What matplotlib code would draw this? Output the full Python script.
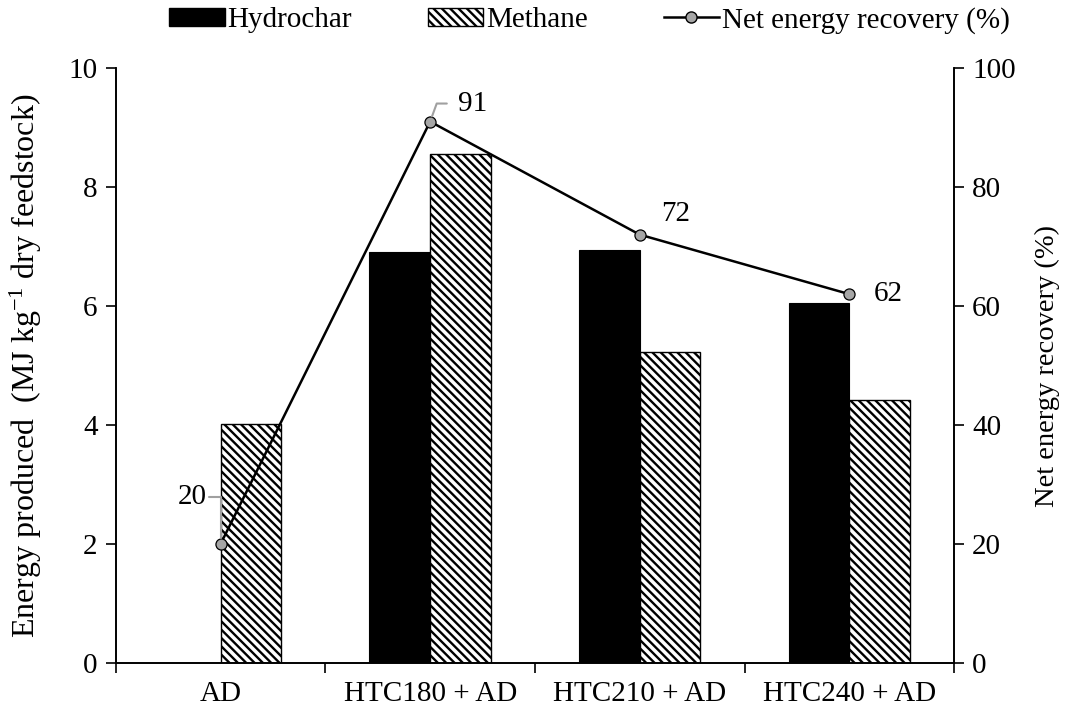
import matplotlib.pyplot as plt
import numpy as np
from matplotlib.patches import Patch
from matplotlib.lines import Line2D

plt.rcParams['font.family'] = ['Liberation Serif', 'DejaVu Serif']
plt.rcParams['mathtext.fontset'] = 'custom'
plt.rcParams['mathtext.rm'] = 'Liberation Serif'
plt.rcParams['mathtext.default'] = 'regular'
plt.rcParams['hatch.linewidth'] = 1.7

# data
categories = ['AD', 'HTC180 + AD', 'HTC210 + AD', 'HTC240 + AD']
hydrochar = [0, 6.9, 6.95, 6.05]
methane = [4.02, 8.55, 5.22, 4.42]
net_recovery = [20, 91, 72, 62]

x = np.arange(len(categories))
w = 0.29
hatch = '\\\\\\\\'

fig = plt.figure(figsize=(10.72, 7.17), dpi=100)
ax = fig.add_axes([0.108, 0.0753, 0.782, 0.8298])
ax2 = ax.twinx()

ax.bar(x - w / 2, hydrochar, w, color='black', edgecolor='black', lw=0.8, zorder=2)
ax.bar(x + w / 2, methane, w, color='white', edgecolor='black', hatch=hatch, lw=1.0, zorder=2)

ax2.plot(x, net_recovery, color='black', lw=1.8, marker='o', ms=8,
         mfc='#a6a6a6', mec='black', mew=0.9, zorder=3)

# value labels
ax2.annotate('20', xy=(x[0], net_recovery[0]), xytext=(-10, 34), textcoords='offset points',
             fontsize=21, ha='right', va='center',
             arrowprops=dict(arrowstyle='-', color='#a0a0a0', lw=1.5,
                             connectionstyle='angle,angleA=0,angleB=90,rad=0',
                             shrinkA=0, shrinkB=4))
ax2.annotate('91', xy=(x[1], net_recovery[1]), xytext=(20, 13), textcoords='offset points',
             fontsize=21, ha='left', va='center',
             arrowprops=dict(arrowstyle='-', color='#a0a0a0', lw=1.5,
                             connectionstyle='angle,angleA=0,angleB=70,rad=0',
                             shrinkA=6, shrinkB=4))
ax2.annotate('72', xy=(x[2], net_recovery[2]), xytext=(26, 15), textcoords='offset points',
             fontsize=21, ha='center', va='center')
ax2.annotate('62', xy=(x[3], net_recovery[3]), xytext=(28, 0), textcoords='offset points',
             fontsize=21, ha='center', va='center')

ax.set_xlim(-0.5, len(categories) - 0.5)
ax.set_ylim(0, 10)
ax2.set_ylim(0, 100)
ax.set_yticks(np.arange(0, 11, 2))
ax2.set_yticks(np.arange(0, 101, 20))

ax.set_xticks(np.arange(-0.5, len(categories), 1))
ax.set_xticklabels([])
ax.set_xticks(x, minor=True)
ax.set_xticklabels(categories, minor=True)
ax.tick_params(axis='x', which='minor', length=0, pad=13, labelsize=21)
ax.tick_params(axis='x', which='major', direction='out', length=7, width=1.2)
ax.tick_params(axis='y', direction='out', length=7, width=1.2, labelsize=21, pad=6)
ax2.tick_params(axis='y', direction='out', length=7, width=1.2, labelsize=21, pad=6)

for a in (ax, ax2):
    a.spines['top'].set_visible(False)
    for s in ('left', 'right', 'bottom'):
        a.spines[s].set_linewidth(1.2)

ax.set_ylabel('Energy produced  (MJ kg$^{-1}$ dry feedstock)', fontsize=23, labelpad=18)
ax2.set_ylabel('Net energy recovery (%)', fontsize=20.5, labelpad=14)

handles = [Patch(facecolor='black', edgecolor='black'),
           Patch(facecolor='white', edgecolor='black', hatch=hatch),
           Line2D([0], [0], color='black', lw=1.8, marker='o', ms=8, mfc='#a6a6a6', mec='black')]
fig.legend(handles, ['Hydrochar', 'Methane', 'Net energy recovery (%)'],
           loc='center', bbox_to_anchor=(0.55, 0.972), ncol=3, frameon=False, fontsize=21,
           handlelength=1.9, handletextpad=0.1, columnspacing=2.6, handleheight=0.6)

fig.savefig('out.png', dpi=100)
